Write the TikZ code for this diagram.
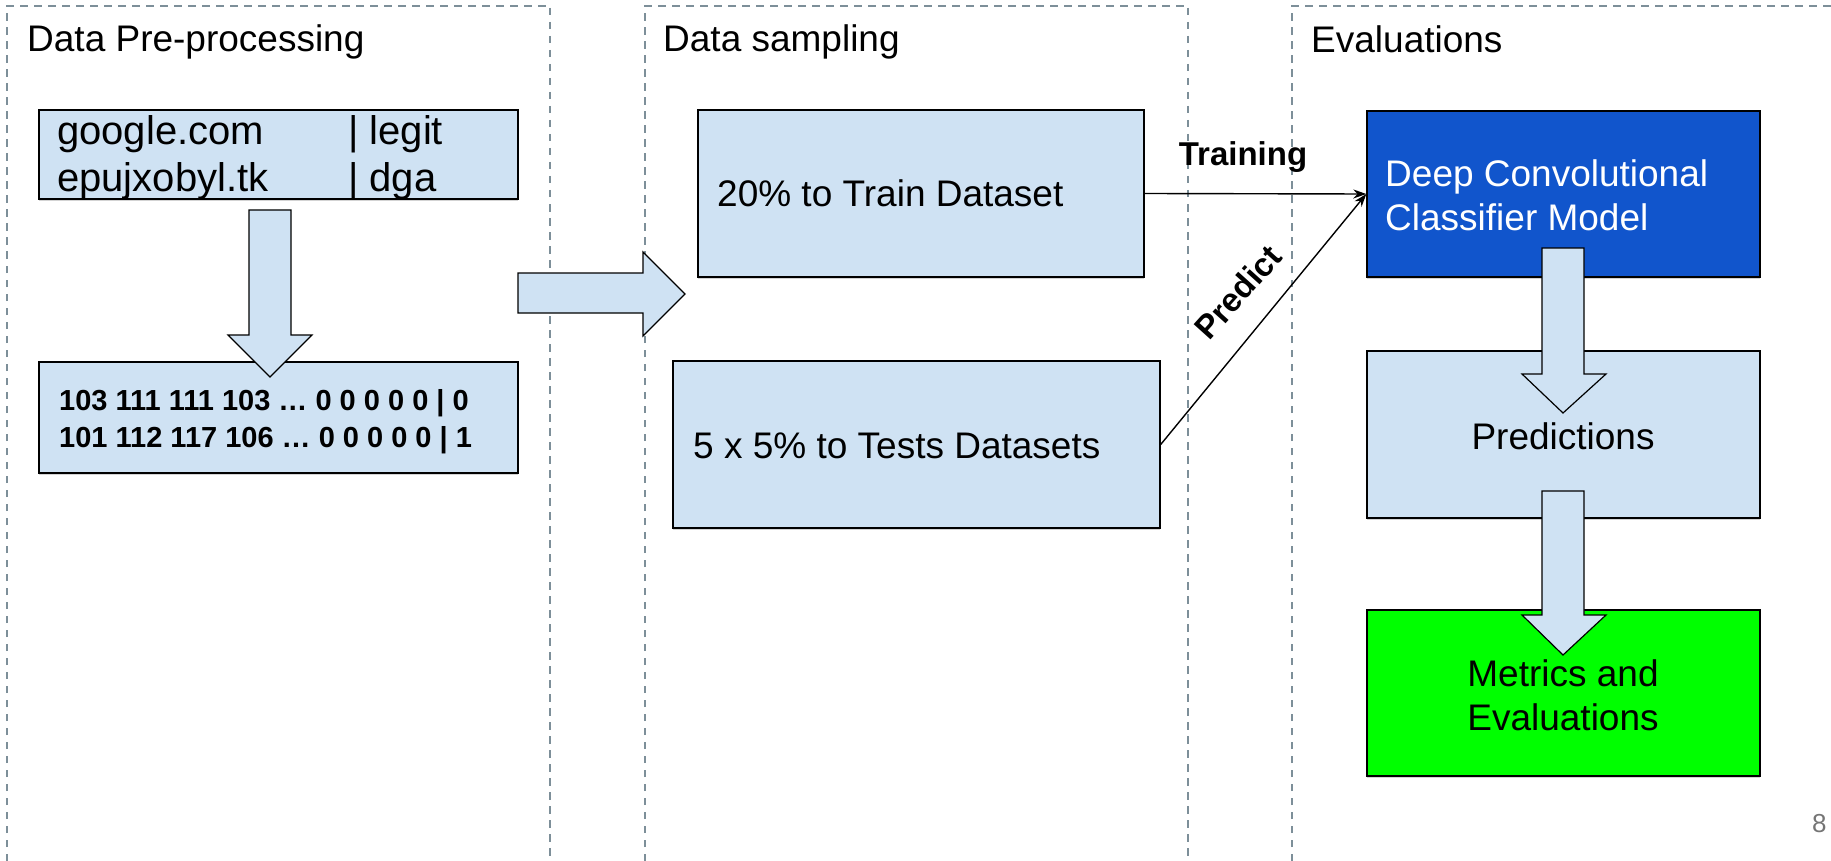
\documentclass[tikz,border=0pt]{standalone}
\usepackage{fontspec}
\setmainfont{Liberation Sans}
\usetikzlibrary{arrows.meta,shadows}
\definecolor{lblue}{HTML}{CFE2F3}
\definecolor{dblue}{HTML}{1155CC}
\definecolor{lgreen}{HTML}{00FF00}
\definecolor{panelc}{HTML}{7D8F99}
\definecolor{pgray}{HTML}{757575}
\newcommand{\myfs}[1]{\fontsize{#1}{#1}\selectfont}
\begin{document}
\begin{tikzpicture}[x=1pt,y=-1pt,
  panel/.style={draw=panelc, line width=1.6pt, dash pattern=on 7.5pt off 6.5pt},
  box/.style={draw=black, line width=1.4pt, fill=lblue, rectangle, inner sep=0pt,
    drop shadow={shadow xshift=0pt, shadow yshift=-2pt, opacity=0.35}},
  blockarrow/.style={draw=black, line width=1.2pt, fill=lblue, line join=miter},
  txt/.style={inner sep=0pt, anchor=base west, font=\myfs{37}},
  ctxt/.style={inner sep=0pt, anchor=base, font=\myfs{37}},
  conn/.style={draw=black, line width=1.4pt, -{Stealth[length=13pt,width=9pt]}},
  blabel/.style={inner sep=0pt, font=\bfseries\myfs{33}}
]
\useasboundingbox (0,0) rectangle (1831,861);

% panels
\draw[panel] (7,861) -- (7,6) -- (550,6) -- (550,861);
\draw[panel] (645,861) -- (645,6) -- (1188,6) -- (1188,861);
\draw[panel] (1292,861) -- (1292,6) -- (1831,6);

\node[txt] (t1) at (27,52) {Data Pre-processing};
\node[txt] (t2) at (663,52) {Data sampling};
\node[txt] (t3) at (1311,53) {Evaluations};

% panel 1 boxes
\node[box, minimum width=479pt, minimum height=89pt] (dom) at (278.5,154.5) {};
\node[box, minimum width=479pt, minimum height=111pt] (num) at (278.5,417.5) {};
\node[txt, font=\myfs{40}] (d1) at (57,145) {google.com};
\node[txt, font=\myfs{40}] (d1b) at (348,145) {| legit};
\node[txt, font=\myfs{40}] (d2) at (57,192) {epujxobyl.tk};
\node[txt, font=\myfs{40}] (d2b) at (348,192) {| dga};

% panel 2 boxes
\node[box, minimum width=446pt, minimum height=167pt] (train) at (921,193.5) {};
\node[box, minimum width=487pt, minimum height=167pt] (test) at (916.5,444.5) {};
\node[txt] (trt) at (717,207) {20\% to Train Dataset};
\node[txt] (tet) at (693,458) {5 x 5\% to Tests Datasets};

% panel 3 boxes
\node[box, fill=dblue, minimum width=393pt, minimum height=166pt] (model) at (1563.5,194) {};
\node[box, minimum width=393pt, minimum height=167pt] (pred) at (1563.5,434.5) {};
\node[box, fill=lgreen, minimum width=393pt, minimum height=166pt] (metrics) at (1563.5,693) {};
\node[txt, text=white] (m1) at (1385,187) {Deep Convolutional};
\node[txt, text=white] (m2) at (1385,231) {Classifier Model};
\node[ctxt] (pt) at (1563,449) {Predictions};
\node[ctxt] (e1) at (1563,686) {Metrics and};
\node[ctxt] (e2) at (1563,730) {Evaluations};

% numeric lines (drawn after arrow below)
% block arrows
\draw[blockarrow] (249,210) -- (291,210) -- (291,335) -- (312,335) -- (270,377) -- (228,335) -- (249,335) -- cycle;
\node[txt, font=\bfseries\myfs{29}] (n1) at (59,410) {103 111 111 103 … 0 0 0 0 0 | 0};
\node[txt, font=\bfseries\myfs{29}] (n2) at (59,447) {101 112 117 106 … 0 0 0 0 0 | 1};

\draw[blockarrow] (518,273) -- (643,273) -- (643,252) -- (685,294) -- (643,336) -- (643,313) -- (518,313) -- cycle;

\draw[blockarrow] (1542,248) -- (1584,248) -- (1584,374) -- (1606,374) -- (1563,413) -- (1522,374) -- (1542,374) -- cycle;
\draw[blockarrow] (1542,491) -- (1584,491) -- (1584,615) -- (1606,615) -- (1563,655) -- (1522,615) -- (1542,615) -- cycle;

% connectors
\draw[conn] (train.east) -- (model.west);
\draw[conn] (test.east) -- (model.west);
\node[blabel, anchor=base] (lt) at (1243,166) {Training};
\node[blabel, rotate=48] (lp) at (1238,292) {Predict};

\node[inner sep=0pt, anchor=base west, text=pgray, font=\myfs{26}] (pg) at (1812,832) {8};
\end{tikzpicture}
\end{document}
